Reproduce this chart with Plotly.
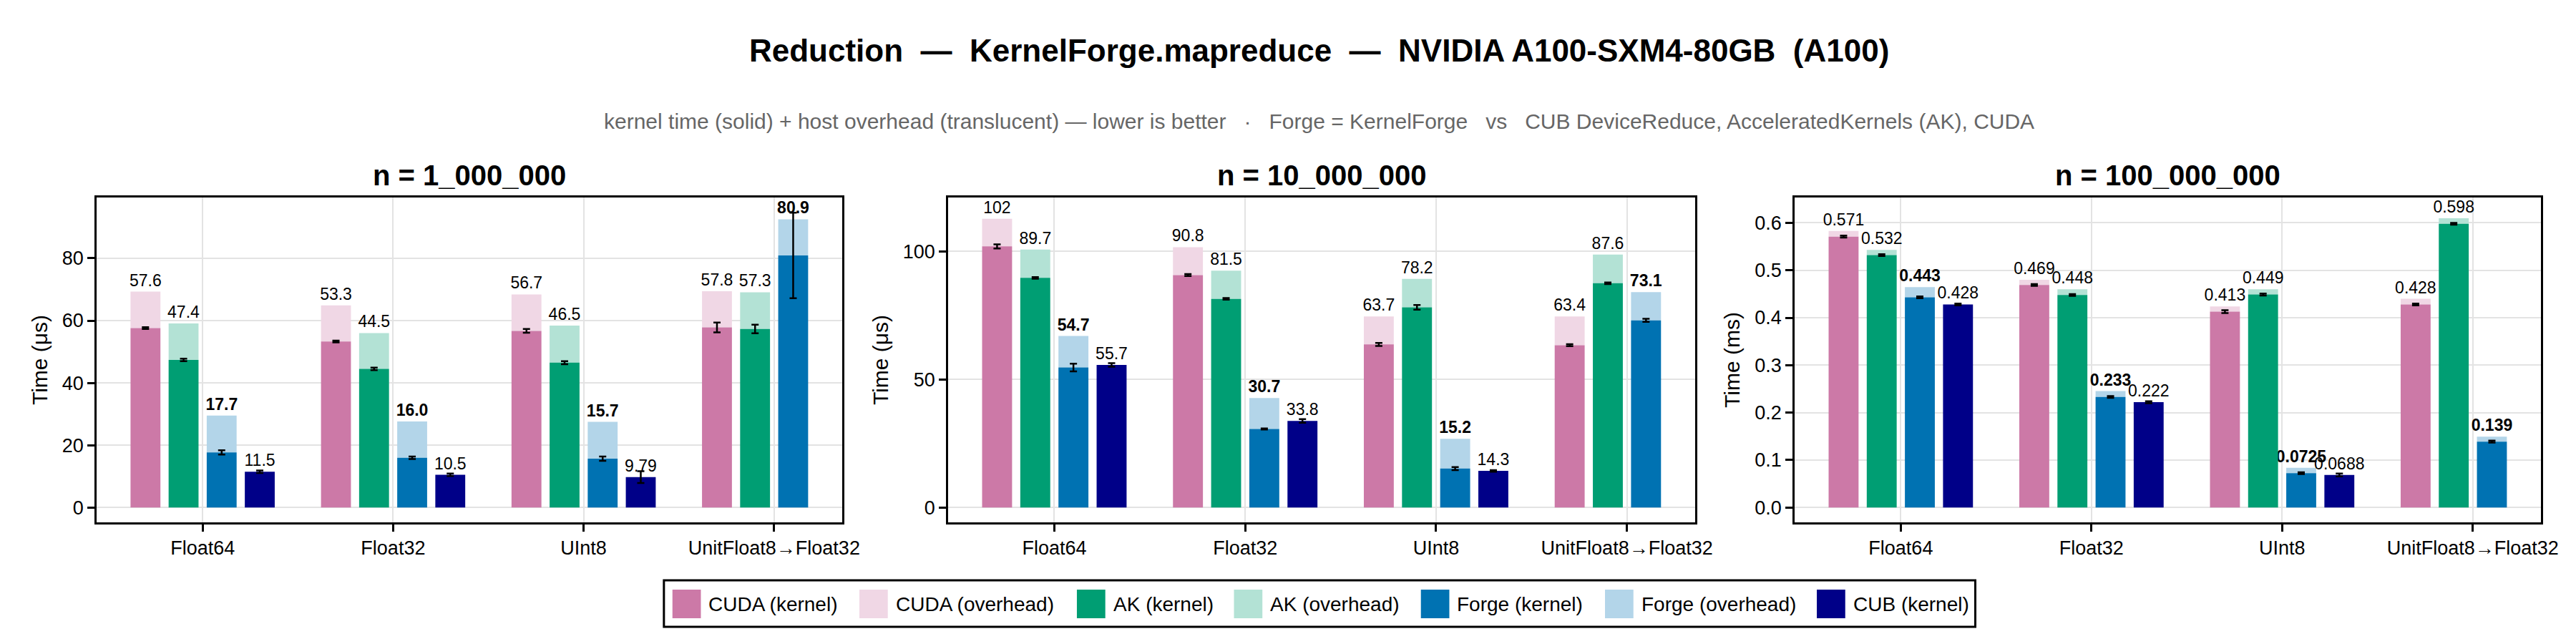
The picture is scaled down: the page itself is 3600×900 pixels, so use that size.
import math
import plotly.graph_objects as go
from plotly.subplots import make_subplots

# Kategorien und Panels
categories = ["Float64", "Float32", "UInt8", "UnitFloat8→Float32"]
panel_titles = ["n = 1_000_000", "n = 10_000_000", "n = 100_000_000"]
y_titles = ["Time (μs)", "Time (μs)", "Time (ms)"]

# Werte je Panel (Panel 1+2 in μs, Panel 3 in ms)
cuda_kernel = [[57.6, 53.3, 56.7, 57.8], [102.0, 90.8, 63.7, 63.4], [0.571, 0.469, 0.413, 0.428]]
cuda_overhead = [[11.7, 11.6, 11.7, 11.6], [10.8, 10.9, 10.9, 11.2], [0.012, 0.011, 0.011, 0.012]]
cuda_err = [[0.3, 0.3, 0.6, 1.6], [0.8, 0.4, 0.6, 0.4], [0.002, 0.002, 0.003, 0.002]]

ak_kernel = [[47.4, 44.5, 46.5, 57.3], [89.7, 81.5, 78.2, 87.6], [0.532, 0.448, 0.449, 0.598]]
ak_overhead = [[11.7, 11.5, 11.9, 11.8], [11.1, 11.0, 11.1, 11.2], [0.011, 0.012, 0.011, 0.0115]]
ak_err = [[0.4, 0.4, 0.5, 1.4], [0.3, 0.3, 0.9, 0.3], [0.002, 0.002, 0.002, 0.002]]

forge_kernel = [[17.7, 16.0, 15.7, 80.9], [54.7, 30.7, 15.2, 73.1], [0.443, 0.233, 0.0725, 0.139]]
forge_overhead = [[11.8, 11.6, 11.8, 11.6], [12.3, 12.1, 11.6, 11.0], [0.0216, 0.0125, 0.0111, 0.0102]]
forge_err = [[0.7, 0.4, 0.7, 13.7], [1.5, 0.2, 0.6, 0.6], [0.002, 0.002, 0.002, 0.002]]

cub_kernel = [[11.5, 10.5, 9.79, None], [55.7, 33.8, 14.3, None], [0.428, 0.222, 0.0688, None]]
cub_err = [[0.4, 0.4, 1.9, None], [0.7, 0.7, 0.3, None], [0.002, 0.002, 0.003, None]]

# Achsenbereiche / Ticks
y_ranges = [[-4.75, 99.5], [-5.8, 121.1], [-0.0312, 0.6534]]
y_dticks = [20, 50, 0.1]
y_formats = ["", "", ".1f"]

# Farben (Okabe-Ito, Overhead = 30 % Deckkraft)
colors = {
    "CUDA": ("#CC79A7", "#F0D7E5"),
    "AK": ("#009E73", "#B3E2D5"),
    "Forge": ("#0072B2", "#B3D5E9"),
    "CUB": ("#000088", None),
}

W, H = 3600, 900
FONT = "Liberation Sans, Arial, sans-serif"
LABEL_SIZE = 23


def fmt3(v, bold=False):
    # 3 signifikante Stellen wie im Original (16.0, 102, 0.0725)
    if v is None:
        return ""
    dec = max(0, 2 - int(math.floor(math.log10(abs(v)))))
    s = f"{v:.{dec}f}"
    return f"<b>{s}</b>" if bold else s


def px(x):
    return x / W


def py(y):
    return 1 - y / H


fig = make_subplots(rows=1, cols=3)

series = [
    ("CUDA", cuda_kernel, cuda_overhead, cuda_err),
    ("AK", ak_kernel, ak_overhead, ak_err),
    ("Forge", forge_kernel, forge_overhead, forge_err),
]

for p in range(3):
    col = p + 1
    # Overhead zuerst, damit die Fehlerbalken der Kernel-Balken oben liegen
    for name, kern, ovh, err in series:
        labels = [fmt3(v, bold=(name == "Forge")) for v in kern[p]]
        fig.add_trace(go.Bar(
            x=categories, y=ovh[p], base=kern[p], offsetgroup=name,
            marker=dict(color=colors[name][1], line=dict(width=0)),
            text=labels, textposition="outside", textangle=0, constraintext="none",
            textfont=dict(size=LABEL_SIZE, color="black", family=FONT),
            cliponaxis=False, showlegend=False, name=f"{name} (overhead)",
        ), row=1, col=col)
    for name, kern, ovh, err in series:
        fig.add_trace(go.Bar(
            x=categories, y=kern[p], offsetgroup=name,
            marker=dict(color=colors[name][0], line=dict(width=0)),
            error_y=dict(type="data", array=err[p], color="black", thickness=2.5, width=5),
            cliponaxis=False, showlegend=False, name=f"{name} (kernel)",
        ), row=1, col=col)
    fig.add_trace(go.Bar(
        x=categories, y=cub_kernel[p], offsetgroup="CUB",
        marker=dict(color=colors["CUB"][0], line=dict(width=0)),
        error_y=dict(type="data", array=cub_err[p], color="black", thickness=2.5, width=5),
        text=[fmt3(v) for v in cub_kernel[p]], textposition="outside", textangle=0,
        constraintext="none", textfont=dict(size=LABEL_SIZE, color="black", family=FONT),
        cliponaxis=False, showlegend=False, name="CUB (kernel)",
    ), row=1, col=col)

# Plotflächen (Pixel aus dem Original)
x_domains = [(128, 1177), (1326, 2377), (2517, 3567)]
plot_top, plot_bottom = 268, 722

axis_common = dict(
    showgrid=True, gridcolor="#E3E3E3", gridwidth=2, zeroline=False,
    showline=True, mirror=True, linecolor="black", linewidth=3,
    ticks="outside", ticklen=10, tickwidth=2.5, tickcolor="black",
    tickfont=dict(size=27, family=FONT, color="black"),
)

for p in range(3):
    xa = "xaxis" if p == 0 else f"xaxis{p + 1}"
    ya = "yaxis" if p == 0 else f"yaxis{p + 1}"
    fig.update_layout({
        xa: dict(domain=[px(x_domains[p][0]), px(x_domains[p][1])],
                 range=[-0.556, 3.358], **axis_common),
        ya: dict(domain=[py(plot_bottom), py(plot_top)], range=y_ranges[p],
                 dtick=y_dticks[p], tickformat=y_formats[p],
                 title=dict(text=y_titles[p], font=dict(size=30, family=FONT, color="black"),
                            standoff=12),
                 **axis_common),
    })

annotations = []
center_x = px((x_domains[0][0] + x_domains[2][1]) / 2)

# Titel und Untertitel
annotations.append(dict(
    text="<b>Reduction  —  KernelForge.mapreduce  —  NVIDIA A100-SXM4-80GB  (A100)</b>",
    x=center_x, y=py(62), xref="paper", yref="paper", showarrow=False,
    xanchor="center", yanchor="middle", font=dict(size=44, family=FONT, color="black"),
))
annotations.append(dict(
    text="kernel time (solid) + host overhead (translucent) — lower is better   ·   "
         "Forge = KernelForge   vs   CUB DeviceReduce, AcceleratedKernels (AK), CUDA",
    x=center_x, y=py(162), xref="paper", yref="paper", showarrow=False,
    xanchor="center", yanchor="middle", font=dict(size=30, family=FONT, color="#666666"),
))

# Panel-Titel
for p in range(3):
    annotations.append(dict(
        text=f"<b>{panel_titles[p]}</b>",
        x=px((x_domains[p][0] + x_domains[p][1]) / 2), y=py(237), xref="paper", yref="paper",
        showarrow=False, xanchor="center", yanchor="middle",
        font=dict(size=40, family=FONT, color="black"),
    ))

# Legende (eigene Kästchen, wie im Original)
legend_items = [
    ("CUDA (kernel)", colors["CUDA"][0]),
    ("CUDA (overhead)", colors["CUDA"][1]),
    ("AK (kernel)", colors["AK"][0]),
    ("AK (overhead)", colors["AK"][1]),
    ("Forge (kernel)", colors["Forge"][0]),
    ("Forge (overhead)", colors["Forge"][1]),
    ("CUB (kernel)", colors["CUB"][0]),
]
legend_x = [938, 1201, 1507, 1728, 1991, 2250, 2548]

shapes = [dict(type="rect", xref="paper", yref="paper",
               x0=px(926), x1=px(2771), y0=py(868), y1=py(803),
               line=dict(color="black", width=3), fillcolor="white")]
for (label, c), lx in zip(legend_items, legend_x):
    shapes.append(dict(type="rect", xref="paper", yref="paper",
                       x0=px(lx), x1=px(lx + 40), y0=py(856), y1=py(816),
                       line=dict(width=0), fillcolor=c))
    annotations.append(dict(
        text=label, x=px(lx + 49), y=py(836), xref="paper", yref="paper",
        showarrow=False, xanchor="left", yanchor="middle",
        font=dict(size=28, family=FONT, color="black"),
    ))

fig.update_layout(
    width=W, height=H,
    margin=dict(l=0, r=0, t=0, b=0),
    paper_bgcolor="white", plot_bgcolor="white",
    barmode="group", bargap=0.2, bargroupgap=0.215,
    font=dict(family=FONT, color="black"),
    annotations=annotations, shapes=shapes,
    showlegend=False,
)

fig.write_html("out.html")
